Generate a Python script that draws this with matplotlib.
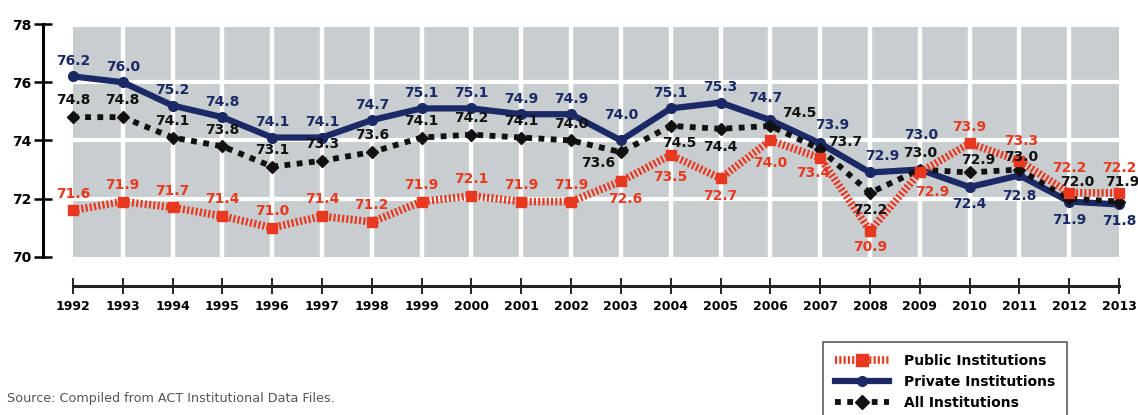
import matplotlib
matplotlib.use("Agg")
import matplotlib.pyplot as plt
from matplotlib.lines import Line2D
from matplotlib.patches import Rectangle

# --- data ---
years = list(range(1992, 2014))
private = [76.2, 76.0, 75.2, 74.8, 74.1, 74.1, 74.7, 75.1, 75.1, 74.9, 74.9,
           74.0, 75.1, 75.3, 74.7, 73.9, 72.9, 73.0, 72.4, 72.8, 71.9, 71.8]
public = [71.6, 71.9, 71.7, 71.4, 71.0, 71.4, 71.2, 71.9, 72.1, 71.9, 71.9,
          72.6, 73.5, 72.7, 74.0, 73.4, 70.9, 72.9, 73.9, 73.3, 72.2, 72.2]
all_inst = [74.8, 74.8, 74.1, 73.8, 73.1, 73.3, 73.6, 74.1, 74.2, 74.1, 74.0,
            73.6, 74.5, 74.4, 74.5, 73.7, 72.2, 73.0, 72.9, 73.0, 72.0, 71.9]
y_ticks = [70, 72, 74, 76, 78]
series_names = ["Public Institutions", "Private Institutions", "All Institutions"]
source_note = "Source: Compiled from ACT Institutional Data Files."

# label offsets (points) where a label does not sit straight above its point
private_off = {2003: (0, 18), 2006: (-4, 16), 2007: (9, 13), 2008: (9, 12),
               2009: (1, 25), 2010: (0, -12), 2011: (0, -15), 2012: (0, -13),
               2013: (0, -12)}
public_off = {2003: (3, -13), 2004: (0, -16), 2005: (0, -13), 2006: (0, -16),
              2007: (-5, -11), 2008: (0, -12), 2009: (9, -14), 2011: (1, 14),
              2012: (0, 18), 2013: (0, 18)}
all_off = {2003: (-16, -8), 2004: (6, -12), 2005: (0, -13), 2006: (21, 9),
           2007: (18, 5), 2008: (0, -12), 2009: (0, 12), 2010: (6, 9),
           2011: (1, 9), 2012: (6, 12), 2013: (2, 14)}

NAVY = "#1b2a66"
RED = "#e8381f"
BLACK = "#111111"
GRAY = "#c8cdd0"

fig = plt.figure(figsize=(11.38, 4.15), dpi=100)
ax = fig.add_axes([43 / 1138, 129 / 415, 1086 / 1138, 262 / 415])
ax.set_xlim(1991.4, 2013.2)
ax.set_ylim(69, 78)

# gray panel with white grid
ax.add_patch(Rectangle((years[0], 70), years[-1] - years[0], 7.9,
                       facecolor=GRAY, edgecolor="none", zorder=0))
for yr in years[1:-1]:
    ax.plot([yr, yr], [70, 77.9], color="white", lw=3.2, zorder=1)
for yv in y_ticks[1:-1]:
    ax.plot([years[0], years[-1]], [yv, yv], color="white", lw=3.0, zorder=1)

ax.plot(years, private, color=NAVY, lw=4.5, marker="o", ms=7,
        solid_joinstyle="miter", zorder=3)
ax.plot(years, all_inst, color=BLACK, lw=4.2, ls=(0, (1.0, 1.1)),
        dash_capstyle="butt", marker="D", ms=6.5, zorder=4)
ax.plot(years, public, color=RED, lw=5.5, ls=(0, (0.28, 0.28)),
        dash_capstyle="butt", marker="s", ms=6.5, zorder=5)


def put_labels(values, offsets, default, color):
    for yr, v in zip(years, values):
        dx, dy = offsets.get(yr, default)
        ax.annotate(f"{v:.1f}", (yr, v), xytext=(dx, dy),
                    textcoords="offset points", ha="center", va="center",
                    fontsize=10, fontweight="bold", color=color,
                    annotation_clip=False, zorder=6)


put_labels(private, private_off, (0, 11), NAVY)
put_labels(public, public_off, (0, 12), RED)
put_labels(all_inst, all_off, (0, 12), BLACK)

# axes styling
for side in ("top", "right"):
    ax.spines[side].set_visible(False)
ax.spines["left"].set_bounds(70, 78)
ax.spines["left"].set_linewidth(2.2)
ax.spines["bottom"].set_bounds(years[0], years[-1])
ax.spines["bottom"].set_linewidth(2.2)
ax.spines["bottom"].set_color("#222222")

ax.set_yticks(y_ticks)
ax.set_yticklabels([str(t) for t in y_ticks], fontsize=10, fontweight="bold")
ax.tick_params(axis="y", direction="inout", length=13, width=1.8, pad=2)
ax.set_xticks(years)
ax.set_xticklabels([str(y) for y in years], fontsize=9, fontweight="bold")
ax.tick_params(axis="x", direction="inout", length=12, width=1.2, pad=4)

handles = [
    Line2D([], [], color=RED, lw=5.5, ls=(0, (0.28, 0.28)), marker="s", ms=8),
    Line2D([], [], color=NAVY, lw=4.5, marker="o", ms=7),
    Line2D([], [], color=BLACK, lw=4.2, ls=(0, (1.0, 1.1)), marker="D", ms=7),
]
leg = fig.legend(handles, series_names, loc="upper left",
                 bbox_to_anchor=(823 / 1138, 1 - 342 / 415),
                 prop={"weight": "bold", "size": 10}, frameon=True,
                 fancybox=False, handlelength=3.9, handletextpad=1.1,
                 labelspacing=0.5, borderpad=0.85, numpoints=1,
                 borderaxespad=0)
leg.get_frame().set_edgecolor("#333333")
leg.get_frame().set_linewidth(1.2)

fig.text(7 / 1138, 1 - 398 / 415, source_note, fontsize=9.2, color="#555555",
         ha="left", va="center")

fig.savefig("out.png", dpi=100)
